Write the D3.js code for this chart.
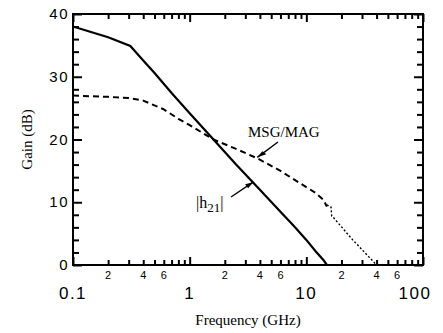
<!DOCTYPE html>
<html>
<head>
<meta charset="utf-8">
<script src="https://cdn.jsdelivr.net/npm/d3@7"></script>
<style>
body { margin: 0; background: #fff; }
svg { display: block; }
.sans { font-family: "Liberation Sans", Arial, sans-serif; }
.serif { font-family: "Liberation Serif", "Times New Roman", serif; }
</style>
</head>
<body>
<svg id="chart" width="443" height="333"></svg>
<script>
// |h21| (solid) : [GHz, dB]
const h21 = [[0.1, 38], [0.2, 36.3], [0.31, 34.9], [0.4, 32.6], [0.5, 30.6], [0.7, 27.4], [1, 24.2],
	[1.6, 20], [2.5, 16], [4, 12], [6, 8.5], [8, 6], [10, 4], [12, 2.2], [14, 0.8], [15, 0]];
// MSG/MAG (dashed)
const msg = [[0.1, 27], [0.2, 26.8], [0.3, 26.6], [0.4, 26.2], [0.6, 24.8], [0.8, 23.3],
	[1, 22.3], [1.6, 20], [2.5, 18.5], [3.8, 17], [6, 15], [10, 12.4], [12, 11.5], [14, 10.4], [15, 9.3]];
// extrapolated MSG/MAG (dotted)
const msgExt = [[15, 9.6], [16.3, 9.2], [16.5, 7.8], [17, 7.6], [25, 4], [40, 0]];

const yTicks = [0, 10, 20, 30, 40];
const xMajor = [0.1, 1, 10, 100];
const xMajorLabels = ['0.1', '1', '10', '100'];
const xMinorLabels = [2, 4, 6];

const margin = { left: 73, top: 14, right: 20, bottom: 68 };
const width = 443, height = 333;
const svg = d3.select('#chart');

const x = d3.scaleLog().domain([0.1, 100]).range([margin.left, width - margin.right]);
const y = d3.scaleLinear().domain([0, 40]).range([height - margin.bottom, margin.top]);

const pL = x.range()[0], pR = x.range()[1];
const pB = y.range()[0], pT = y.range()[1];

// minor ticks 2..9 each decade
const xMinor = [];
for (const d of [0.1, 1, 10]) {
	for (let k = 2; k <= 9; k++) xMinor.push(+(d * k).toPrecision(3));
}
const yMinor = d3.range(0, 41, 2).filter(v => v % 10 !== 0);

// inward ticks on all four sides via d3 axes (drawn first, frame on top)
function ax(gen, tr) {
	const g = svg.append('g').attr('transform', tr)
		.call(gen.tickSizeOuter(0).tickPadding(0).tickFormat(() => ''));
	g.select('.domain').remove();
	g.selectAll('.tick line').attr('stroke', '#000').attr('stroke-width', 2);
}
ax(d3.axisBottom(x).tickValues(xMinor).tickSizeInner(-5), `translate(0,${pB})`);
ax(d3.axisBottom(x).tickValues(xMajor).tickSizeInner(-8), `translate(0,${pB})`);
ax(d3.axisTop(x).tickValues(xMinor).tickSizeInner(-5), `translate(0,${pT})`);
ax(d3.axisTop(x).tickValues(xMajor).tickSizeInner(-8), `translate(0,${pT})`);
ax(d3.axisLeft(y).tickValues(yMinor).tickSizeInner(-6), `translate(${pL},0)`);
ax(d3.axisLeft(y).tickValues(yTicks).tickSizeInner(-9), `translate(${pL},0)`);
ax(d3.axisRight(y).tickValues(yMinor).tickSizeInner(-6), `translate(${pR},0)`);
ax(d3.axisRight(y).tickValues(yTicks).tickSizeInner(-9), `translate(${pR},0)`);

// frame
svg.append('rect')
	.attr('x', pL).attr('y', pT)
	.attr('width', pR - pL).attr('height', pB - pT)
	.attr('fill', 'none').attr('stroke', '#000').attr('stroke-width', 2);

// y labels
svg.selectAll('.ylab').data(yTicks).enter().append('text')
	.attr('class', 'sans')
	.attr('x', pL - 4).attr('y', d => y(d) + 5)
	.attr('text-anchor', 'end').attr('font-size', 15)
	.attr('letter-spacing', 1.5)
	.text(d => d);

// x labels
svg.selectAll('.xlab').data(xMajor).enter().append('text')
	.attr('class', 'sans')
	.attr('x', (d, i) => x(d) + (i === xMajor.length - 1 ? -8 : 0)).attr('y', pB + 34)
	.attr('text-anchor', 'middle').attr('font-size', 17)
	.attr('letter-spacing', 1.5)
	.text((d, i) => xMajorLabels[i]);

const minorLabelData = [];
for (const d of [0.1, 1, 10]) for (const k of xMinorLabels) minorLabelData.push(d * k);
svg.selectAll('.xmlab').data(minorLabelData).enter().append('text')
	.attr('class', 'sans')
	.attr('x', d => x(d)).attr('y', pB + 14)
	.attr('text-anchor', 'middle').attr('font-size', 11)
	.text((d, i) => xMinorLabels[i % 3]);

// axis titles
svg.append('text').attr('class', 'serif')
	.attr('x', (pL + pR) / 2).attr('y', height - 8)
	.attr('text-anchor', 'middle').attr('font-size', 15)
	.text('Frequency (GHz)');
svg.append('text').attr('class', 'serif')
	.attr('transform', `translate(32, ${(pB + pT) / 2}) rotate(-90)`)
	.attr('text-anchor', 'middle').attr('font-size', 15)
	.text('Gain (dB)');

// curves
const line = d3.line().x(d => x(d[0])).y(d => y(d[1]));
svg.append('path').datum(h21).attr('d', line)
	.attr('fill', 'none').attr('stroke', '#000').attr('stroke-width', 2.2);
svg.append('path').datum(msg).attr('d', line)
	.attr('fill', 'none').attr('stroke', '#000').attr('stroke-width', 2)
	.attr('stroke-dasharray', '6,4');
svg.append('path').datum(msgExt).attr('d', line)
	.attr('fill', 'none').attr('stroke', '#000').attr('stroke-width', 1.4)
	.attr('stroke-dasharray', '2,2');

// annotations
const ann = svg.append('g');
ann.append('text').attr('class', 'serif')
	.attr('x', 248).attr('y', 137).attr('font-size', 15)
	.text('MSG/MAG');
ann.append('line')
	.attr('x1', 278).attr('y1', 142).attr('x2', x(3.8)).attr('y2', y(17) - 1)
	.attr('stroke', '#000').attr('stroke-width', 1.4);
ann.append('path')
	.attr('d', `M${x(3.8)},${y(17) - 1} l9,-3 l-4,-3 z`)
	.attr('fill', '#000');

const h = ann.append('text').attr('class', 'serif')
	.attr('x', 196).attr('y', 208).attr('font-size', 16);
h.append('tspan').text('|h');
h.append('tspan').attr('dy', 4).attr('font-size', 13).text('21');
h.append('tspan').attr('dy', -4).text('|');
ann.append('line')
	.attr('x1', 231).attr('y1', 197).attr('x2', x(3.5)).attr('y2', y(13.2))
	.attr('stroke', '#000').attr('stroke-width', 1.4);
ann.append('path')
	.attr('d', `M${x(3.5)},${y(13.2)} l-8,2 l3,4 z`)
	.attr('fill', '#000');
</script>
</body>
</html>
